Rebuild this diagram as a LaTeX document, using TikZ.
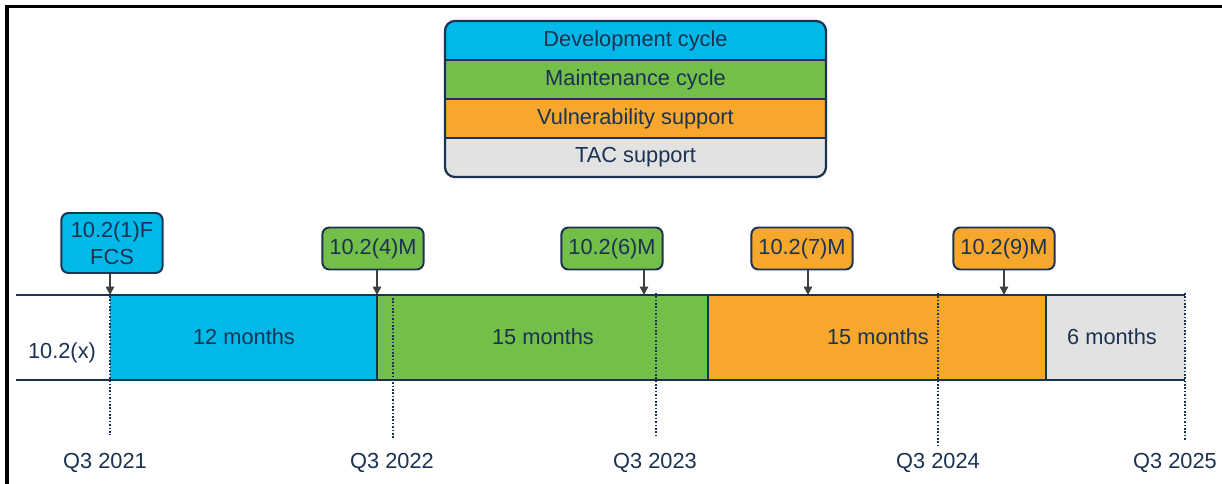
\documentclass[tikz,border=0pt]{standalone}
\usepackage{fontspec}
\setmainfont{Liberation Sans}
\usepackage{tikz}
\usetikzlibrary{arrows.meta,positioning,calc}

\definecolor{navy}{HTML}{1B3252}
\definecolor{devblue}{HTML}{00B9E8}
\definecolor{mntgreen}{HTML}{74BE4A}
\definecolor{vulnorange}{HTML}{F7A82C}
\definecolor{tacgray}{HTML}{E2E2E2}
\definecolor{arrowgray}{HTML}{3F3F3F}

\tikzset{
  every node/.style={font=\fontsize{15.5}{17}\selectfont, text=navy},
  callout/.style={draw=navy, line width=1.4pt, rounded corners=5pt,
    minimum width=2.53cm, minimum height=1.05cm, inner sep=2pt, align=center},
  tick/.style={navy, line width=0.9pt, dash pattern=on 1.1pt off 1.3pt},
  rail/.style={navy, line width=1.1pt},
}

\begin{document}
\begin{tikzpicture}[x=0.025cm,y=-0.025cm,>={Triangle[length=6pt,width=6pt]}]
      \useasboundingbox (0,0) rectangle (1222,484);

      % frame
      \draw[line width=2.2pt,black] (7,484) -- (7,6.5) -- (1222,6.5);

      % legend
      \begin{scope}
        \clip[rounded corners=7pt] (445,21) rectangle (826,177);
        \fill[devblue] (445,21) rectangle (826,60);
        \fill[mntgreen] (445,60) rectangle (826,99);
        \fill[vulnorange] (445,99) rectangle (826,138);
        \fill[tacgray] (445,138) rectangle (826,177);
      \end{scope}
      \draw[navy,line width=1.6pt] (445,60) -- (826,60);
      \draw[navy,line width=1.6pt] (445,99) -- (826,99);
      \draw[navy,line width=1.6pt] (445,138) -- (826,138);
      \draw[navy,line width=1.6pt,rounded corners=7pt] (445,21) rectangle (826,177);
      \node (ldev) at (635.5,40.5) {Development cycle};
      \node (lmnt) at (635.5,79.5) {Maintenance cycle};
      \node (lvuln) at (635.5,118.5) {Vulnerability support};
      \node (ltac) at (635.5,157.5) {TAC support};

      % timeline points
      \coordinate (T1) at (110,295);
      \coordinate (T2) at (377,295);
      \coordinate (T3) at (708,295);
      \coordinate (T4) at (1046,295);
      \coordinate (T5) at (1185,295);

      % bars
      \fill[devblue] (110,295) rectangle (377,380);
      \fill[mntgreen] (377,295) rectangle (708,380);
      \fill[vulnorange] (708,295) rectangle (1046,380);
      \fill[tacgray] (1046,295) rectangle (1185,380);
      \draw[rail] (16,295) -- (1185,295);
      \draw[rail] (16,380) -- (1185,380);
      \draw[navy,line width=1.4pt] (T2) -- (377,380);
      \draw[navy,line width=1.4pt] (T3) -- (708,380);
      \draw[navy,line width=1.4pt] (T4) -- (1046,380);

      \node (rel) at (62,353) {10.2(x)};
      \node (dev) at (244,337) {12 months};
      \node (mnt) at (543,337) {15 months};
      \node (vuln) at (878,337) {15 months};
      \node (tac) at (1112,337) {6 months};

      % quarters
      \node (q1) at (105,463) {Q3 2021};
      \node (q2) at (392,463) {Q3 2022};
      \node (q3) at (655,463) {Q3 2023};
      \node (q4) at (938,463) {Q3 2024};
      \node (q5) at (1175,463) {Q3 2025};
      \draw[tick] (110,296) -- (110,435);
      \draw[tick] (393,298) -- (393,438);
      \draw[tick] (656,293) -- (656,438);
      \draw[tick] (938,293) -- (938,445);
      \draw[tick] (1185,293) -- (1185,440);

      % releases
      \node[callout,fill=devblue,minimum height=1.5cm,inner sep=1pt] (r1) at (112,243) {10.2(1)F\\[2pt]FCS};
      \node[callout,fill=mntgreen] (r4) at (373,248.5) {10.2(4)M};
      \node[callout,fill=mntgreen] (r6) at (612,248.5) {10.2(6)M};
      \node[callout,fill=vulnorange] (r7) at (802,248.5) {10.2(7)M};
      \node[callout,fill=vulnorange] (r9) at (1004,248.5) {10.2(9)M};

      \draw[->,arrowgray,line width=1.1pt] (r1.south -| T1) -- (T1);
      \draw[->,arrowgray,line width=1.1pt] (r4.south -| T2) -- (T2);
      \draw[->,arrowgray,line width=1.1pt] (r6.south -| 644,0) -- (644,295);
      \draw[->,arrowgray,line width=1.1pt] (r7.south -| 808,0) -- (808,295);
      \draw[->,arrowgray,line width=1.1pt] (r9.south) -- (1004,295);

    \end{tikzpicture}
\end{document}
